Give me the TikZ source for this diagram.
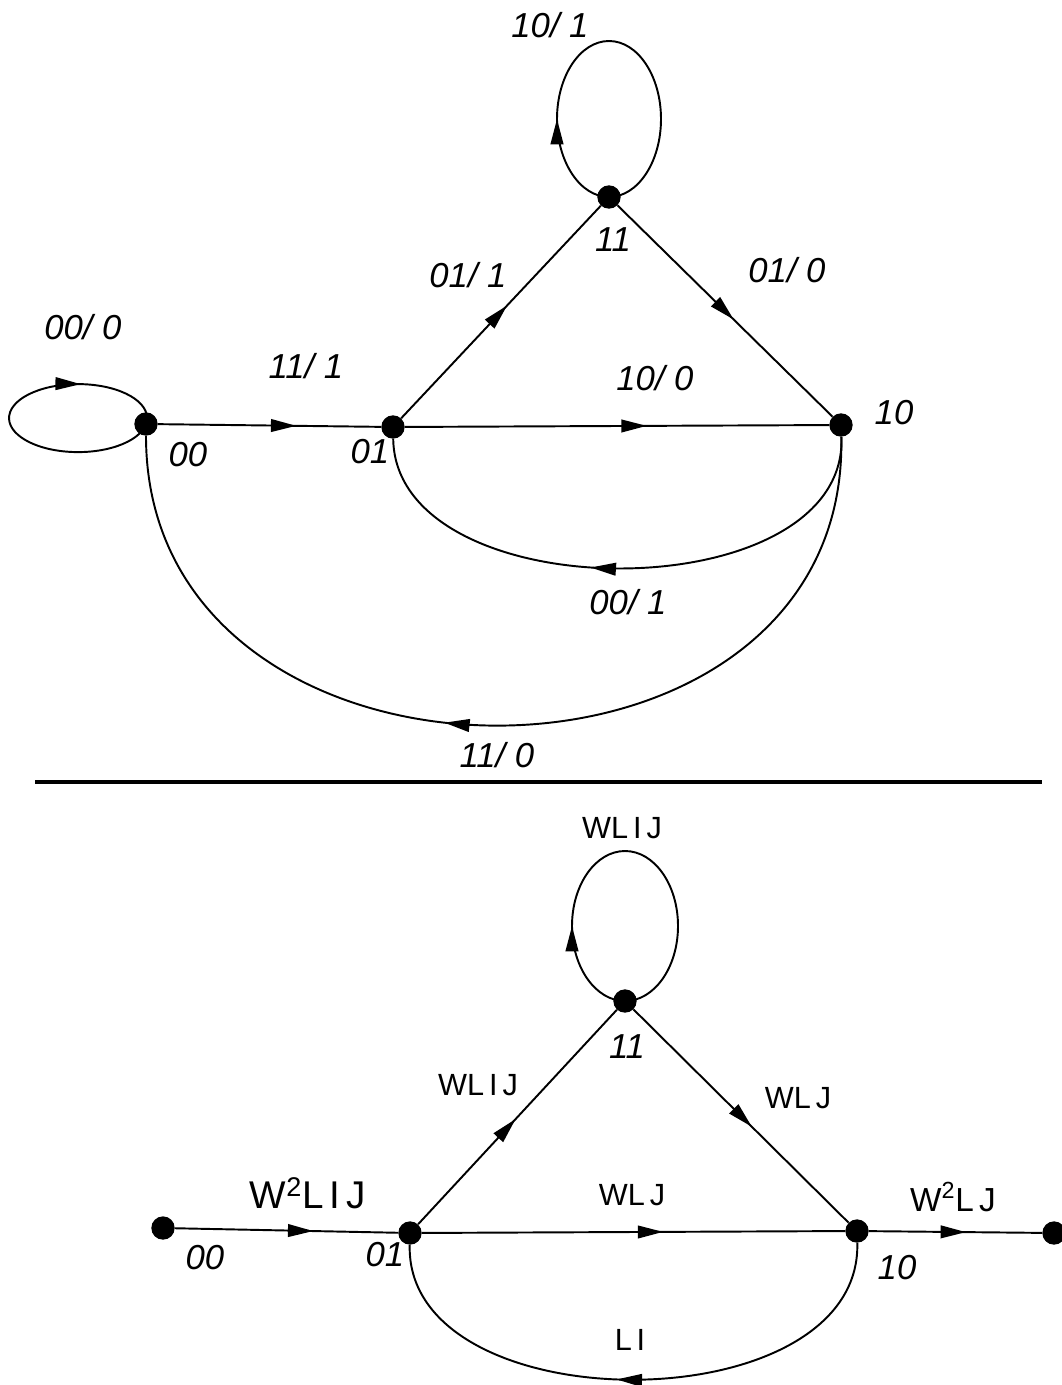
\documentclass[tikz,border=0pt]{standalone}
\usepackage{fontspec}
\setmainfont{Liberation Sans}
\usetikzlibrary{arrows.meta,decorations.markings}
\newcommand\gp{\hspace{0.16em}}
\tikzset{
  dot/.style={circle, fill=black, inner sep=0pt, minimum size=17.5pt},
  edge/.style={line width=1.45pt},
  midarrow/.style={edge, postaction={decorate}, decoration={markings,
     mark=at position #1 with {\arrow{Triangle[length=19pt,width=9.5pt]}}}},
  lab/.style={inner sep=0pt, font=\fontsize{26}{30}\selectfont\itshape},
  wlab/.style={inner sep=0pt, font=\fontsize{23}{27}\selectfont},
}
\begin{document}
\begin{tikzpicture}[x=0.75pt,y=-0.75pt]
\useasboundingbox[fill=white] (0,0) rectangle (1061,1385);

% ---------------- top diagram ----------------
\node[dot] (t00) at (146,424) {};
\node[dot] (t01) at (393,427) {};
\node[dot] (t11) at (609,197) {};
\node[dot] (t10) at (841,425) {};

\draw[midarrow=0.74] (t00.center) arc[start angle=10, end angle=370, x radius=69, y radius=34];
\draw[midarrow=0.25] (t11.center) arc[start angle=90, end angle=450, x radius=52, y radius=78];
\draw[midarrow=0.62] (t00) -- (t01);
\draw[midarrow=0.53] (t01) -- (t11);
\draw[midarrow=0.54] (t11) -- (t10);
\draw[midarrow=0.57] (t01) -- (t10);
\draw[midarrow=0.55] (t10) .. controls (848,612) and (396,612) .. (t01);
\draw[midarrow=0.55] (t10) .. controls (850,822) and (146,822) .. (t00);

\node[lab] (l101) at (550,25) {10/ 1};
\node[lab] (l000) at (83,327) {00/ 0};
\node[lab] (l111) at (306,366) {11/ 1};
\node[lab] (l011) at (468,275) {01/ 1};
\node[lab] (l010) at (787,270) {01/ 0};
\node[lab] (n11a) at (613,240) {11};
\node[lab] (l100) at (655,378) {10/ 0};
\node[lab] (n10a) at (894,413) {10};
\node[lab] (n00a) at (188,455) {00};
\node[lab] (n01a) at (370,452) {01};
\node[lab] (l001) at (628,602) {00/ 1};
\node[lab] (l110) at (497,755) {11/ 0};

% separator
\coordinate (sepL) at (35,782);
\coordinate (sepR) at (1042,782);
\draw[line width=2.4pt] (sepL) -- (sepR);

% ---------------- bottom diagram ----------------
\node[dot] (b00) at (163,1228) {};
\node[dot] (b01) at (410,1233) {};
\node[dot] (b11) at (625,1001) {};
\node[dot] (b10) at (857,1231) {};
\node[dot] (bend) at (1054,1233) {};

\draw[midarrow=0.25] (b11.center) arc[start angle=90, end angle=450, x radius=53, y radius=75];
\draw[midarrow=0.62] (b00) -- (b01);
\draw[midarrow=0.49] (b01) -- (b11);
\draw[midarrow=0.55] (b11) -- (b10);
\draw[midarrow=0.57] (b01) -- (b10);
\draw[midarrow=0.56] (b10) -- (bend);
\draw[midarrow=0.53] (b10) .. controls (862,1425) and (405,1425) .. (b01);

\node[wlab] (w1) at (622,828) {WL\gp I\gp J};
\node[lab] (n11b) at (627,1047) {11};
\node[wlab] (w2) at (478,1085) {WL\gp I\gp J};
\node[wlab] (w3) at (798,1098) {WL\gp J};
\node[wlab, font=\fontsize{29}{33}\selectfont] (w4) at (308,1193) {W\textsuperscript{2}L\gp I\gp J};
\node[wlab] (w5) at (632,1195) {WL\gp J};
\node[wlab, font=\fontsize{25}{29}\selectfont] (w6) at (953,1197) {W\textsuperscript{2}L\gp J};
\node[lab] (n00b) at (205,1258) {00};
\node[lab] (n01b) at (385,1255) {01};
\node[lab] (n10b) at (897,1268) {10};
\node[wlab] (w7) at (630,1340) {L\gp I};
\end{tikzpicture}
\end{document}
